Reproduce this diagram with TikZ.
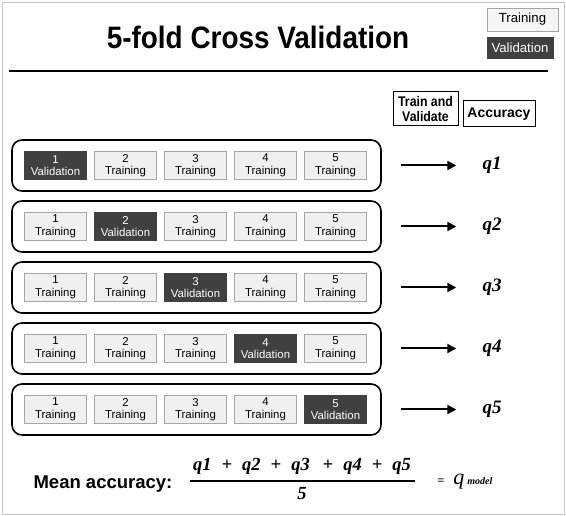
\documentclass[tikz,border=0pt]{standalone}
\usepackage{fontspec}
\setmainfont{Liberation Sans}
\newfontfamily\qfont{Liberation Serif}
\usetikzlibrary{positioning,arrows.meta}

\definecolor{valgray}{HTML}{404040}

\begin{document}
\begin{tikzpicture}[x=1pt, y=-1pt,
    fold/.style={draw=gray!70, fill=gray!12, minimum width=62pt, minimum height=28pt,
        inner sep=0pt, align=center, font=\fontsize{11.4}{12.5}\selectfont},
    valfold/.style={fold, fill=valgray, draw=valgray, text=white},
    rowbox/.style={draw, line width=1.6pt, rounded corners=10pt, minimum width=369pt, minimum height=51pt},
    qlabel/.style={inner sep=1pt, font=\qfont\bfseries\itshape\fontsize{19}{19}\selectfont},
    headbox/.style={draw, line width=1pt, align=center, inner sep=0pt,
        font=\bfseries\fontsize{14}{15.5}\selectfont},
    legbox/.style={draw=gray!70, fill=gray!8, inner sep=0pt, font=\fontsize{13.2}{13}\selectfont}]

\useasboundingbox (0,0) rectangle (566,516);
\draw[gray!45] (2,2) rectangle (564,514);

% title and legend
\node (title) at (258,37) {\scalebox{0.9}[1]{\bfseries\fontsize{31}{31}\selectfont 5-fold Cross Validation}};
\draw[line width=1.5pt] (9,71) -- (548,71);
\node[legbox, minimum width=71pt, minimum height=23pt] (legtrain) at (522.5,19.5) {Training};
\node[legbox, minimum width=66pt, minimum height=21pt, fill=valgray, draw=valgray, text=white]
    (legval) at (520,47.5) {Validation};

% column heads
\node[headbox, minimum width=65pt, minimum height=34pt] (trainval) at (425.5,109)
    {\scalebox{0.88}[1]{Train and}\\\scalebox{0.88}[1]{Validate}};
\node[headbox, minimum width=72pt, minimum height=26pt] (acc) at (499,114) {Accuracy};

% the five folds
\foreach \r in {1,...,5}{
    \pgfmathsetmacro\y{104.5+61*\r}
    \node[rowbox] (row\r) at (196.5,\y) {};
    \foreach \c in {1,...,5}{
        \pgfmathsetmacro\x{-14.5+70*\c}
        \ifnum\c=\r
            \node[valfold] (f\r\c) at (\x,\y) {\c\\Validation};
        \else
            \node[fold] (f\r\c) at (\x,\y) {\c\\Training};
        \fi
    }
    \coordinate (as\r) at (401,\y);
    \node[qlabel] (q\r) at (492,\y) {q\r};
    \draw[line width=2pt, -{Triangle[length=9pt,width=9pt]}, shorten >=25pt] (as\r) -- (q\r.west);
}

% mean accuracy
\node (meanlbl) at (103,484) {\bfseries\fontsize{18.5}{18.5}\selectfont Mean accuracy:};
\node[qlabel, font=\qfont\bfseries\itshape\fontsize{18.5}{18.5}\selectfont] (num) at (302,466)
    {q1\hspace{10pt}+\hspace{10pt}q2\hspace{10pt}+\hspace{10pt}q3\hspace{13pt}+\hspace{10pt}q4\hspace{10pt}+\hspace{10pt}q5};
\node[qlabel, font=\qfont\bfseries\itshape\fontsize{18.5}{18.5}\selectfont] (den) at (302,494) {5};
\draw[line width=1.2pt] (190,481) coordinate (barl) -- (415,481) coordinate (barr);
\node (qmodel) at (465,482) {{\qfont\bfseries\fontsize{12}{12}\selectfont =}\hspace{9pt}{\qfont\itshape\fontsize{22}{22}\selectfont q}\hspace{3pt}{\qfont\bfseries\itshape\fontsize{10}{10}\selectfont model}};
\end{tikzpicture}
\end{document}
